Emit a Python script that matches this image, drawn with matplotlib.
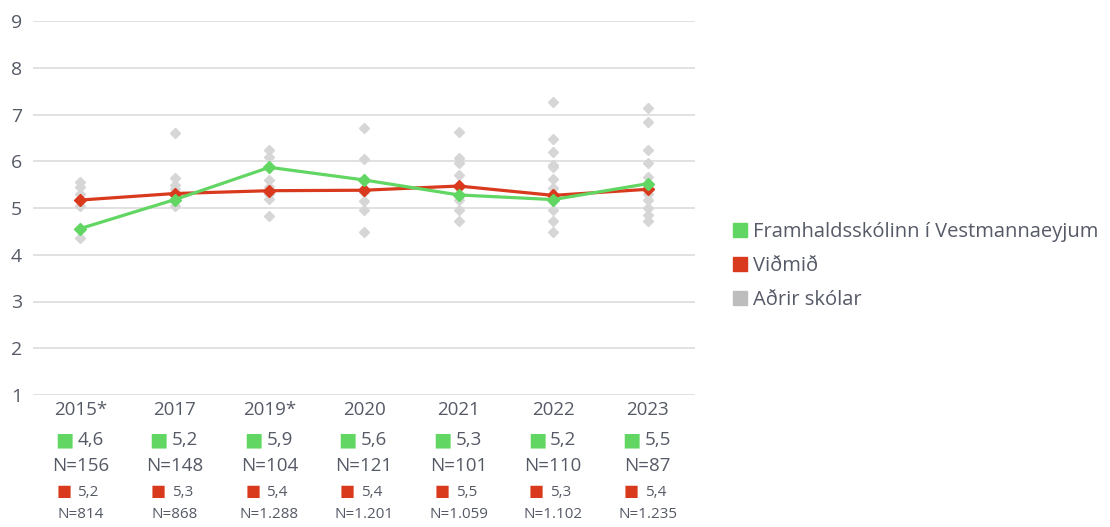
import matplotlib
matplotlib.use("Agg")
import matplotlib.pyplot as plt
import matplotlib.transforms as mtransforms
from matplotlib.lines import Line2D

plt.rcParams["font.family"] = ["Open Sans", "DejaVu Sans"]

years = ["2015*", "2017", "2019*", "2020", "2021", "2022", "2023"]
school = [4.56, 5.18, 5.87, 5.60, 5.28, 5.18, 5.52]
benchmark = [5.17, 5.31, 5.37, 5.38, 5.47, 5.27, 5.40]
school_n = ["156", "148", "104", "121", "101", "110", "87"]
benchmark_n = ["814", "868", "1.288", "1.201", "1.059", "1.102", "1.235"]

# other schools, one list per year
others = [
    [5.55, 5.45, 5.30, 5.05, 4.35],
    [6.60, 5.65, 5.50, 5.40, 5.05],
    [6.25, 6.10, 5.60, 5.45, 5.30, 5.20, 4.82],
    [6.72, 6.04, 5.35, 5.15, 4.95, 4.48],
    [6.63, 6.07, 5.96, 5.70, 5.17, 4.96, 4.72],
    [7.27, 6.47, 6.20, 5.92, 5.88, 5.62, 5.42, 4.96, 4.72, 4.48],
    [7.14, 6.83, 6.24, 5.96, 5.67, 5.31, 5.17, 4.99, 4.85, 4.72],
]

GREEN = "#62d662"
RED = "#d93a1e"
GREY = "#d6d6d6"
TEXT = "#555a66"

W, H = 1110, 527
fig = plt.figure(figsize=(W / 100, H / 100), dpi=100)
ax = fig.add_axes([33 / W, 1 - 395 / H, 662 / W, 374 / H])

x = list(range(len(years)))

for i, vals in enumerate(others):
    ax.plot([i] * len(vals), vals, "D", color=GREY, markersize=5.5,
            linestyle="none", clip_on=False, zorder=2)

ax.plot(x, benchmark, "-D", color=RED, lw=2.3, markersize=6.5, clip_on=False, zorder=3)
ax.plot(x, school, "-D", color=GREEN, lw=2.3, markersize=6.5, clip_on=False, zorder=4)

ax.set_xlim(-0.5, len(years) - 0.5)
ax.set_ylim(1, 9)
ax.set_yticks(range(1, 10))
ax.set_xticks([])
ax.grid(axis="y", color="#dcdcdc", lw=1.2)
ax.set_axisbelow(True)
for s in ax.spines.values():
    s.set_visible(False)
ax.tick_params(axis="y", length=0, pad=8, labelsize=14, labelcolor=TEXT)

trans = mtransforms.blended_transform_factory(ax.transData, fig.transFigure)

def fy(py):
    return 1 - py / H

t_sq_big = mtransforms.offset_copy(trans, fig=fig, x=-7, y=0, units="dots")
t_sq_small = mtransforms.offset_copy(trans, fig=fig, x=-9, y=0, units="dots")
t_val = mtransforms.offset_copy(trans, fig=fig, x=-3, y=0, units="dots")

for i, yr in enumerate(years):
    ax.text(i, fy(410), yr, transform=trans, ha="center", va="center",
            fontsize=13.5, color=TEXT)
    # school value row
    ax.text(i, fy(440), "■", transform=t_sq_big, ha="right", va="center",
            fontsize=14, color=GREEN, family=["DejaVu Sans"])
    ax.text(i, fy(440), f"{school[i]:.1f}".replace(".", ","), transform=t_val,
            ha="left", va="center", fontsize=13.5, color=TEXT)
    ax.text(i, fy(466), f"N={school_n[i]}", transform=trans, ha="center",
            va="center", fontsize=13.5, color=TEXT)
    # benchmark row
    ax.text(i, fy(492), "■", transform=t_sq_small, ha="right", va="center",
            fontsize=11.5, color=RED, family=["DejaVu Sans"])
    ax.text(i, fy(492), f"{benchmark[i]:.1f}".replace(".", ","), transform=t_val,
            ha="left", va="center", fontsize=11, color=TEXT)
    ax.text(i, fy(514), f"N={benchmark_n[i]}", transform=trans, ha="center",
            va="center", fontsize=11, color=TEXT)

handles = [
    Line2D([], [], marker="s", color=GREEN, linestyle="none", markersize=10.5),
    Line2D([], [], marker="s", color=RED, linestyle="none", markersize=10.5),
    Line2D([], [], marker="s", color="#bdbdbd", linestyle="none", markersize=10.5),
]
labels = ["Framhaldsskólinn í Vestmannaeyjum", "Viðmið", "Aðrir skólar"]
leg = fig.legend(handles, labels, loc="center left",
                 bbox_to_anchor=(722 / W, 1 - 266 / H), frameon=False,
                 fontsize=14.5, handletextpad=0.15, handlelength=1.0,
                 labelspacing=0.7, borderaxespad=0)
for t in leg.get_texts():
    t.set_color(TEXT)

fig.savefig("out.png", dpi=100)
